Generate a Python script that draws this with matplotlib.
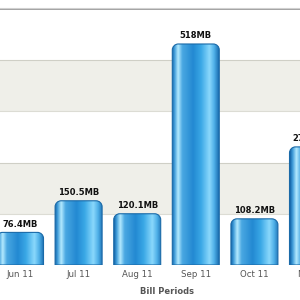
import matplotlib
matplotlib.use("Agg")
import matplotlib.pyplot as plt
import numpy as np
from matplotlib.path import Path
from matplotlib.patches import PathPatch
from matplotlib.colors import LinearSegmentedColormap

periods = ["Jun 11", "Jul 11", "Aug 11", "Sep 11", "Oct 11", "Nov 11"]
usage_mb = [76.4, 150.5, 120.1, 518.0, 108.2, 276.8]
value_labels = ["76.4MB", "150.5MB", "120.1MB", "518MB", "108.2MB", "276.8MB"]
band_edges = [0, 120, 240, 360, 480, 600]

fig = plt.figure(figsize=(3, 3), dpi=100)
fig.patch.set_facecolor("white")
ax = fig.add_axes([0, (300 - 265) / 300, 1, (265 - 9) / 300])
ax.set_facecolor("white")
xmin, xmax = -20 / 58.6, (300 - 20) / 58.6

# alternating bands
for i in range(len(band_edges) - 1):
    if i % 2 == 1:
        ax.axhspan(band_edges[i], band_edges[i + 1], color="#efefe9", zorder=0, lw=0)
        ax.axhline(band_edges[i], color="#dcdcd4", lw=0.8, zorder=0.5)
        ax.axhline(band_edges[i + 1], color="#cfcfc6", lw=0.8, zorder=0.5)

cmap = LinearSegmentedColormap.from_list("cyl", [
    (0.0, "#1565a8"), (0.05, "#3d9ad8"), (0.13, "#b4eaff"), (0.22, "#4aa8e2"),
    (0.45, "#2389d2"), (0.62, "#3aa8e6"), (0.8, "#8ad8fc"), (0.9, "#4fb0e8"),
    (1.0, "#1a6db0")])

bw = 47 / 58.6
x = np.arange(len(periods))
bars = ax.bar(x, usage_mb, width=bw, color="none", edgecolor="none", zorder=2)

rx, ry = 6 / 58.6, 6 / (256 / 600)
k = 0.5523
grad = np.linspace(0, 1, 256).reshape(1, -1)
for b, lab in zip(bars, value_labels):
    x0 = b.get_x(); x1 = x0 + b.get_width(); y0 = 0; y1 = b.get_height()
    verts = [(x0, y0), (x0, y1 - ry),
             (x0, y1 - ry + k * ry), (x0 + rx - k * rx, y1), (x0 + rx, y1),
             (x1 - rx, y1),
             (x1 - rx + k * rx, y1), (x1, y1 - ry + k * ry), (x1, y1 - ry),
             (x1, y0), (x0, y0)]
    codes = [Path.MOVETO, Path.LINETO, Path.CURVE4, Path.CURVE4, Path.CURVE4,
             Path.LINETO, Path.CURVE4, Path.CURVE4, Path.CURVE4, Path.LINETO,
             Path.CLOSEPOLY]
    path = Path(verts, codes)
    patch = PathPatch(path, facecolor="none", edgecolor="#1a6aa8", lw=0.8, zorder=4)
    ax.add_patch(patch)
    im = ax.imshow(grad, extent=(x0, x1, y0, y1), aspect="auto", cmap=cmap,
                   zorder=3, interpolation="bilinear")
    im.set_clip_path(PathPatch(path, transform=ax.transData))
    ax.text(b.get_x() + b.get_width() / 2, y1 + 9, lab, ha="center", va="bottom",
            fontsize=6, fontweight="bold", color="#111111", zorder=5)

# category labels (drawn as annotations so the cropped last one still shows)
for xi, p in zip(x, periods):
    ax.annotate(p, xy=(xi, 0), xycoords=("data", "axes fraction"),
                xytext=(0, -3.5), textcoords="offset points",
                ha="center", va="top", fontsize=6.2, color="#555555",
                annotation_clip=False)

ax.set_xticks([])
ax.set_yticks([])
ax.set_xlim(xmin, xmax)
ax.set_ylim(0, 600)
for s in ["left", "right", "bottom"]:
    ax.spines[s].set_visible(False)
ax.spines["top"].set_color("#9a9a9a")
ax.spines["top"].set_linewidth(1.3)
fig.add_artist(plt.Line2D([0, 1], [1 - 8 / 300, 1 - 8 / 300], color="#d0d0d0", lw=0.8))

fig.text(167 / 300, 1 - 291 / 300, "Bill Periods", ha="center", va="center",
         fontsize=6, fontweight="bold", color="#555555")

fig.savefig("out.png", dpi=100, facecolor="white")
